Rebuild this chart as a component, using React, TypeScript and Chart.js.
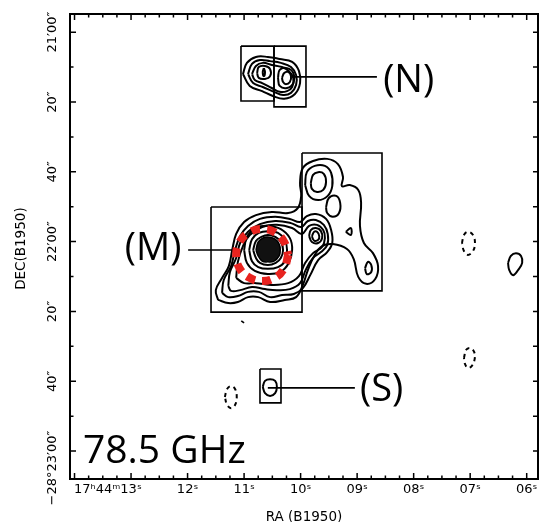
import React, { useEffect, useRef } from "react";
import { Chart, registerables } from "chart.js";

Chart.register(...registerables);

type P = [number, number];

// Axis extents: x = RA seconds past 17h44m (B1950), y = arcsec south of -28°20'00"
const raMin = 5.8;
const raMax = 14.08;
const decTop = 54.8;
const decBottom = 188.0;

const raTickValues = [13, 12, 11, 10, 9, 8, 7, 6];
const raTickLabels = ["17ʰ44ᵐ13ˢ", "12ˢ", "11ˢ", "10ˢ", "09ˢ", "08ˢ", "07ˢ", "06ˢ"];
const raMinorStep = 0.25;
const decTickValues = [60, 80, 100, 120, 140, 160, 180];
const decTickLabels = ["21′00″", "20″", "40″", "22′00″", "20″", "40″", "−28°23′00″"];
const decMinorStep = 10;

const xTitle = "RA (B1950)";
const yTitle = "DEC(B1950)";
const bandLabel = "78.5 GHz";
const bandLabelPos: P = [13.85, 183.4];

const annotationTexts = ["(N)", "(M)", "(S)"];
const annotationPos: P[] = [
  [8.54, 77.1],
  [13.11, 125.3],
  [8.95, 165.7],
];

// ---- boxes (clean-map windows)
const boxNLeft: P[] = [[11.055, 64.0], [10.471, 64.0], [10.471, 79.7], [11.055, 79.7], [11.055, 64.0]];
const boxNRight: P[] = [[10.471, 64.0], [9.905, 64.0], [9.905, 81.4], [10.471, 81.4], [10.471, 64.0]];
const boxM: P[] = [[11.585, 110.1], [9.975, 110.1], [9.975, 140.2], [11.585, 140.2], [11.585, 110.1]];
const boxNE: P[] = [[9.975, 94.6], [8.56, 94.6], [8.56, 134.1], [9.975, 134.1], [9.975, 94.6]];
const boxS: P[] = [[10.719, 156.5], [10.347, 156.5], [10.347, 166.2], [10.719, 166.2], [10.719, 156.5]];

// ---- leader lines
const leaderN: P[] = [[10.15, 72.8], [8.65, 72.8]];
const leaderM: P[] = [[11.99, 122.4], [11.14, 122.4]];
const leaderS: P[] = [[10.58, 161.9], [9.04, 161.9]];
const tinyMark: P[] = [[11.05, 142.7], [11.0, 143.3]];

// ---- (N) contours
const n1: P[] = [[11.02, 72.0], [10.95, 68.8], [10.79, 67.1], [10.58, 67.1], [10.37, 67.7], [10.15, 68.5], [10.03, 71.1], [10.01, 74.6], [10.1, 77.7], [10.29, 79.1], [10.49, 78.3], [10.68, 76.9], [10.9, 75.4]];
const n2: P[] = [[10.93, 72.0], [10.86, 69.1], [10.72, 68.0], [10.54, 68.3], [10.35, 68.8], [10.17, 70.0], [10.08, 72.3], [10.08, 75.1], [10.17, 77.4], [10.31, 78.0], [10.47, 77.1], [10.67, 75.7], [10.84, 74.6]];
const n3: P[] = [[10.86, 72.0], [10.79, 69.7], [10.67, 68.8], [10.51, 69.4], [10.33, 70.0], [10.21, 71.1], [10.13, 73.1], [10.15, 75.7], [10.24, 76.9], [10.37, 77.1], [10.51, 76.0], [10.68, 74.6], [10.81, 73.7]];
const n4: P[] = [[10.77, 71.7], [10.74, 70.0], [10.63, 69.7], [10.54, 70.6], [10.54, 72.6], [10.63, 73.4], [10.74, 73.1]];
const n5: P[] = [[10.4, 73.1], [10.37, 70.8], [10.24, 70.3], [10.13, 71.7], [10.13, 74.6], [10.24, 76.0], [10.37, 75.4]];
const n6: P[] = [[10.33, 73.1], [10.29, 71.7], [10.22, 71.4], [10.17, 72.6], [10.19, 74.3], [10.26, 74.9], [10.31, 74.3]];
const n7: P[] = [[10.65, 70.3], [10.63, 71.4], [10.65, 72.6], [10.67, 71.4]];

// ---- (M) + north-east extension contours
const l1: P[] = [[11.46, 136.7], [11.5, 133.9], [11.39, 130.4], [11.27, 127.0], [11.21, 122.4], [11.14, 117.8], [11.0, 114.4], [10.79, 112.4], [10.51, 111.5], [10.22, 111.8], [10.05, 110.4], [9.99, 106.9], [10.01, 103.2], [9.96, 98.9], [9.78, 96.9], [9.53, 96.3], [9.34, 97.8], [9.25, 101.5], [9.27, 104.1], [9.13, 103.8], [8.98, 105.2], [8.93, 108.9], [8.95, 115.5], [8.88, 120.4], [8.72, 123.3], [8.63, 127.0], [8.68, 130.7], [8.84, 132.1], [8.98, 130.1], [9.06, 125.0], [9.18, 122.1], [9.43, 120.7], [9.62, 121.3], [9.76, 124.1], [9.87, 128.1], [9.96, 132.4], [10.08, 135.9], [10.28, 136.7], [10.54, 137.3], [10.75, 135.9], [10.93, 135.9], [11.11, 137.3], [11.28, 137.6]];
const l2: P[] = [[11.39, 134.7], [11.36, 131.0], [11.23, 127.0], [11.16, 122.4], [11.07, 118.4], [10.93, 115.5], [10.72, 113.5], [10.45, 112.9], [10.19, 113.5], [10.01, 114.4], [9.89, 112.7], [9.73, 112.1], [9.55, 113.5], [9.46, 116.7], [9.44, 120.4], [9.53, 123.0], [9.69, 125.3], [9.83, 129.6], [9.96, 133.3], [10.12, 135.0], [10.33, 135.3], [10.54, 135.9], [10.74, 134.4], [10.93, 134.4], [11.11, 135.6], [11.28, 135.9]];
const l3: P[] = [[11.28, 132.7], [11.25, 128.7], [11.14, 124.7], [11.07, 120.4], [10.93, 117.2], [10.72, 115.0], [10.45, 114.1], [10.17, 114.7], [9.99, 115.8], [9.87, 114.1], [9.73, 113.8], [9.59, 115.2], [9.52, 117.8], [9.53, 121.0], [9.64, 123.0], [9.78, 124.7], [9.91, 128.1], [10.01, 131.9], [10.19, 133.6], [10.42, 133.9], [10.63, 133.6], [10.86, 133.0], [11.07, 133.9], [11.23, 134.1]];
const l4: P[] = [[11.14, 130.4], [11.11, 125.8], [11.02, 121.3], [10.9, 118.1], [10.68, 115.8], [10.42, 115.2], [10.15, 116.1], [9.98, 117.8], [9.85, 115.5], [9.71, 115.2], [9.6, 116.7], [9.57, 119.0], [9.62, 121.5], [9.78, 123.3], [9.92, 126.1], [10.03, 129.9], [10.22, 131.9], [10.51, 132.4], [10.79, 131.9], [11.0, 131.9]];
const midLobe1: P[] = [[9.85, 118.4], [9.82, 116.7], [9.73, 116.1], [9.64, 117.0], [9.62, 119.0], [9.69, 120.4], [9.8, 120.1]];
const midLobe2: P[] = [[9.8, 118.4], [9.76, 117.2], [9.71, 117.2], [9.67, 118.4], [9.69, 119.5], [9.75, 119.8], [9.78, 119.3]];
const topLobe1: P[] = [[9.92, 103.8], [9.89, 100.1], [9.75, 98.3], [9.57, 98.3], [9.46, 100.3], [9.44, 104.1], [9.52, 106.9], [9.69, 108.1], [9.85, 106.9]];
const topLobe2: P[] = [[9.82, 103.2], [9.78, 100.9], [9.69, 100.1], [9.59, 100.6], [9.55, 102.9], [9.6, 105.2], [9.71, 105.8], [9.8, 104.9]];
const innerLoop: P[] = [[9.55, 110.1], [9.5, 107.5], [9.37, 106.9], [9.3, 108.9], [9.32, 111.8], [9.43, 112.9], [9.53, 111.8]];
const triangle: P[] = [[9.2, 117.2], [9.11, 116.1], [9.11, 118.1]];
const seLoop: P[] = [[8.86, 127.6], [8.81, 125.8], [8.75, 126.7], [8.75, 128.7], [8.83, 129.3]];
const ring4: P[] = [[11.0, 122.4], [10.95, 118.7], [10.79, 116.1], [10.58, 115.5], [10.35, 116.4], [10.19, 119.0], [10.15, 122.4], [10.21, 126.1], [10.36, 128.7], [10.58, 129.3], [10.81, 128.4], [10.95, 126.1]];
const ring3: P[] = [[10.91, 122.4], [10.86, 119.3], [10.74, 117.5], [10.58, 117.0], [10.4, 117.5], [10.28, 119.5], [10.24, 122.4], [10.28, 125.6], [10.4, 127.3], [10.58, 127.8], [10.75, 127.3], [10.86, 125.6]];
const ring2: P[] = [[10.84, 122.4], [10.79, 119.8], [10.7, 118.7], [10.58, 118.1], [10.44, 118.7], [10.35, 120.1], [10.31, 122.4], [10.35, 124.7], [10.44, 126.1], [10.58, 126.7], [10.72, 126.1], [10.79, 124.7]];
const core: P[] = [[10.79, 122.4], [10.75, 120.1], [10.67, 119.0], [10.58, 118.7], [10.45, 119.3], [10.38, 120.7], [10.36, 122.4], [10.38, 124.1], [10.47, 125.6], [10.58, 125.8], [10.68, 125.6], [10.75, 124.1]];
const redCircle: P[] = [[10.22, 123.8], [10.29, 127.6], [10.45, 130.3], [10.68, 131.3], [10.91, 130.3], [11.08, 127.6], [11.14, 123.8], [11.08, 120.1], [10.91, 117.4], [10.68, 116.4], [10.45, 117.4], [10.29, 120.1]];

// ---- (S) and isolated features
const sSource: P[] = [[10.67, 161.6], [10.63, 159.9], [10.54, 159.4], [10.45, 159.9], [10.42, 161.6], [10.45, 163.4], [10.54, 164.2], [10.63, 163.4]];
const eastLoop: P[] = [[6.33, 126.1], [6.28, 124.1], [6.19, 123.3], [6.1, 124.1], [6.08, 126.1], [6.15, 128.1], [6.24, 129.6], [6.31, 128.1]];
const negNearS: P[] = [[11.34, 164.5], [11.3, 162.2], [11.23, 161.4], [11.16, 162.2], [11.13, 164.5], [11.16, 166.8], [11.23, 167.7], [11.3, 166.8]];
const negEast1: P[] = [[7.145, 120.4], [7.11, 118.1], [7.04, 117.2], [6.95, 118.1], [6.915, 120.4], [6.95, 122.7], [7.04, 123.8], [7.11, 122.7]];
const negEast2: P[] = [[7.11, 153.3], [7.07, 151.0], [7.0, 150.5], [6.93, 151.6], [6.92, 153.6], [6.97, 155.6], [7.04, 156.2], [7.09, 155.1]];

const solidContours = [n1, n2, n3, n4, n5, n6, n7, l1, l2, l3, l4, midLobe1, midLobe2, topLobe1, topLobe2, innerLoop, triangle, seLoop, ring4, ring3, ring2, sSource, eastLoop];
const dashedContours = [negNearS, negEast1, negEast2];
const boxes = [boxNLeft, boxNRight, boxM, boxNE, boxS];
const leaders = [leaderN, leaderM, leaderS, tinyMark];

const close = (pts: P[]) => [...pts, pts[0]];

const framePlugin = {
  id: "mapFrame",
  afterDatasetsDraw(chart: any) {
    const { ctx, chartArea: a, scales } = chart;
    const xs = scales.x;
    const ys = scales.y;
    ctx.save();
    ctx.strokeStyle = "#000";
    ctx.fillStyle = "#000";
    ctx.lineWidth = 2;
    ctx.strokeRect(a.left, a.top, a.right - a.left, a.bottom - a.top);

    ctx.lineWidth = 1.5;
    ctx.beginPath();
    for (let v = Math.ceil(raMin / raMinorStep) * raMinorStep; v <= raMax + 1e-9; v += raMinorStep) {
      const px = xs.getPixelForValue(v);
      const major = Math.abs(v - Math.round(v)) < 1e-6;
      const len = major ? 6 : 3.5;
      ctx.moveTo(px, a.bottom);
      ctx.lineTo(px, a.bottom - len);
      ctx.moveTo(px, a.top);
      ctx.lineTo(px, a.top + len);
    }
    for (let v = Math.ceil(decTop / decMinorStep) * decMinorStep; v <= decBottom; v += decMinorStep) {
      const py = ys.getPixelForValue(v);
      const major = v % 20 === 0;
      ctx.moveTo(a.left, py);
      ctx.lineTo(a.left + (major ? 6 : 3.5), py);
      ctx.moveTo(a.right, py);
      ctx.lineTo(a.right - 5, py);
    }
    ctx.stroke();

    // RA tick labels
    ctx.font = "13px 'DejaVu Sans', 'Liberation Sans', sans-serif";
    ctx.textBaseline = "alphabetic";
    ctx.textAlign = "right";
    raTickValues.forEach((v, i) => {
      const label = raTickLabels[i];
      const part = label.slice(-3);
      const w = ctx.measureText(part).width;
      ctx.fillText(label, xs.getPixelForValue(v) + w / 2, a.bottom + 14);
    });

    // DEC tick labels (rotated)
    decTickValues.forEach((v, i) => {
      const label = decTickLabels[i];
      const idx = label.indexOf("°");
      const part = idx >= 0 ? label.slice(idx + 1) : label;
      const w = ctx.measureText(part).width;
      ctx.save();
      ctx.translate(a.left - 14, ys.getPixelForValue(v));
      ctx.rotate(-Math.PI / 2);
      ctx.textAlign = "right";
      ctx.fillText(label, w / 2, 0);
      ctx.restore();
    });

    // axis titles
    ctx.font = "13.5px 'DejaVu Sans', sans-serif";
    ctx.textAlign = "center";
    ctx.textBaseline = "middle";
    ctx.fillText(xTitle, (a.left + a.right) / 2, a.bottom + 38);
    ctx.save();
    ctx.translate(a.left - 49, ys.getPixelForValue(122));
    ctx.rotate(-Math.PI / 2);
    ctx.fillText(yTitle, 0, 0);
    ctx.restore();

    // annotations
    ctx.textAlign = "left";
    ctx.textBaseline = "alphabetic";
    ctx.font = "38px 'Open Sans', 'Noto Sans', sans-serif";
    annotationTexts.forEach((t, i) => {
      ctx.fillText(t, xs.getPixelForValue(annotationPos[i][0]), ys.getPixelForValue(annotationPos[i][1]));
    });
    ctx.font = "39px 'Open Sans', 'Noto Sans', sans-serif";
    ctx.fillText(bandLabel, xs.getPixelForValue(bandLabelPos[0]), ys.getPixelForValue(bandLabelPos[1]));
    ctx.restore();
  },
};

export default function App() {
  const ref = useRef<HTMLCanvasElement | null>(null);
  useEffect(() => {
    if (!ref.current) return;
    const base = { pointRadius: 0, pointHitRadius: 0, fill: false, borderColor: "#000", order: 0 };
    const datasets: any[] = [];
    solidContours.forEach((c) => datasets.push({ ...base, data: close(c), borderWidth: 2, tension: 0.4 }));
    dashedContours.forEach((c) => datasets.push({ ...base, data: close(c), borderWidth: 2, tension: 0.4, borderDash: [4, 4] }));
    boxes.forEach((b) => datasets.push({ ...base, data: b, borderWidth: 1.6, tension: 0 }));
    leaders.forEach((l) => datasets.push({ ...base, data: l, borderWidth: 1.6, tension: 0 }));
    datasets.push({ ...base, order: -1, data: close(core), borderWidth: 1.5, tension: 0.4, fill: "shape", backgroundColor: "#111" });
    datasets.push({ ...base, order: -2, data: close(redCircle), borderColor: "#e8231f", borderWidth: 8, tension: 0.45, borderDash: [9, 7], borderCapStyle: "butt" });

    const chart = new Chart(ref.current, {
      type: "line",
      data: { datasets },
      options: {
        animation: false,
        responsive: false,
        devicePixelRatio: 1,
        events: [],
        layout: { padding: { left: 62, top: 6, right: 3, bottom: 43 } },
        plugins: { legend: { display: false }, tooltip: { enabled: false } },
        scales: {
          x: { type: "linear", reverse: true, min: raMin, max: raMax, display: false },
          y: { type: "linear", reverse: true, min: decTop, max: decBottom, display: false },
        },
      },
      plugins: [framePlugin],
    });
    return () => chart.destroy();
  }, []);
  return (
    <div style={{ width: 533, height: 514 }}>
      <canvas ref={ref} width={533} height={514} style={{ display: "block" }} />
    </div>
  );
}
